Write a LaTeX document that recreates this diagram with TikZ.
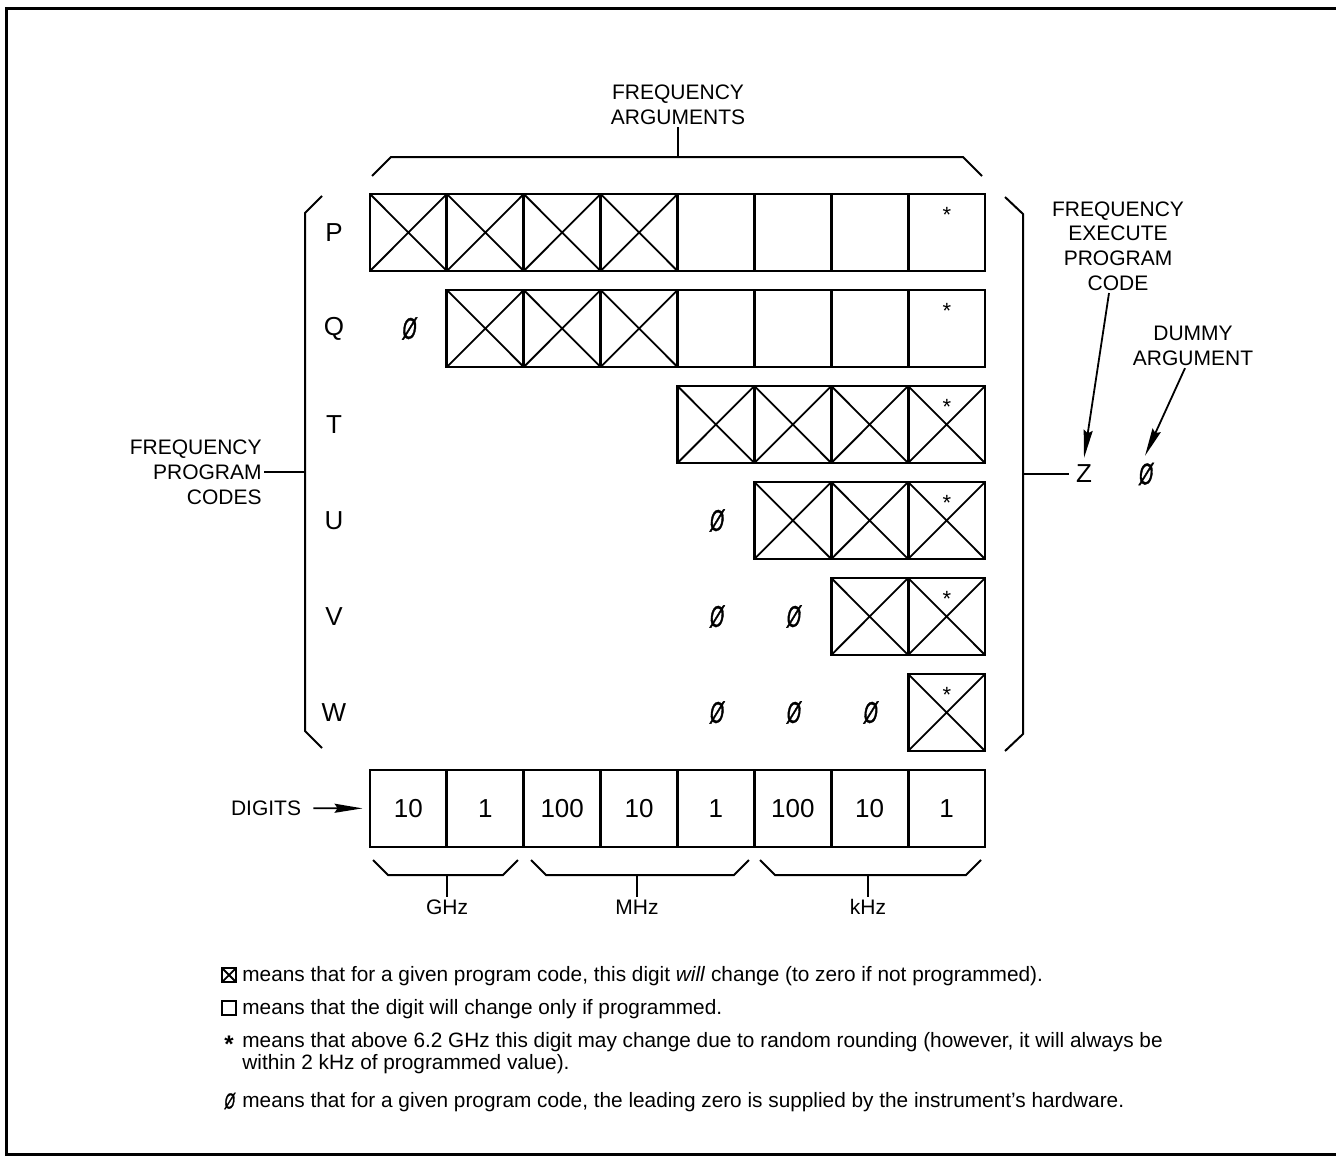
\documentclass[tikz,border=0pt]{standalone}
\usepackage{fontspec}
\setmainfont{Liberation Sans}
\newfontfamily\slzero{Liberation Sans}[FakeStretch=0.6,FakeSlant=0.12,FakeBold=1.2]
\usetikzlibrary{arrows.meta}
\tikzset{
  grid/box/.style={line width=1.4pt},
  grid/cross/.style={line width=0.9pt},
  grid/brace/.style={line width=1pt},
  grid/cap/.style={font=\fontsize{10.5}{12.4}\selectfont, align=center, inner sep=1pt},
  grid/big/.style={font=\fontsize{13}{15}\selectfont},
  grid/zero/.style={font=\fontsize{15}{17}\selectfont\slzero},
  grid/note/.style={font=\fontsize{10.4}{12}\selectfont, anchor=base west, inner sep=0pt},
  grid/ptr/.style={line width=0.9pt, -{Stealth[length=14pt,width=4.5pt,inset=1.5pt]}},
}

\begin{document}
\begin{tikzpicture}[x=0.5pt,y=-0.5pt]
  \useasboundingbox (0,0) rectangle (1336,1157);
  \draw[line width=1.5pt] (1340,8) -- (6,8) -- (6,1154) -- (1340,1154);

  % arguments
  \node[grid/cap] (args) at (678,105) {FREQUENCY\\ARGUMENTS};
  \draw[grid/brace] (372,176) -- (391,157) -- (963,157) -- (982,176);
  \draw[grid/brace] (678,157) -- (args);

  % program codes
  \node[grid/cap, align=right, anchor=east] (codes) at (264,472) {FREQUENCY\\PROGRAM\\CODES};
  \draw[grid/brace] (322,196) -- (305,213) -- (305,731) -- (322,748);
  \draw[grid/brace] (305,472) -- (codes.east);

  % execute code
  \draw[grid/brace] (1005,197) -- (1023,214) -- (1023,734) -- (1005,751);
  \node[grid/big] (zcode) at (1084,474) {Z};
  \node[grid/zero] (dzero) at (1145,474) {Ø};
  \draw[grid/brace] (1023,474) -- (zcode.west);
  \node[grid/cap] (exec) at (1118,246) {FREQUENCY\\EXECUTE\\PROGRAM\\CODE};
  \node[grid/cap] (dummy) at (1193,346) {DUMMY\\ARGUMENT};
  \draw[grid/ptr] ([xshift=-4.5pt]exec.south) -- (zcode.north);
  \draw[grid/ptr] ([xshift=-4pt]dummy.south) -- (dzero.north);

  \foreach \lbl/\r/\a/\b in {P/0/0/3, Q/1/1/3, T/2/4/7, U/3/5/7, V/4/6/7, W/5/7/7} {
    \node[grid/big] (row\lbl) at (334,{232.5+96*\r}) {\lbl};
    \foreach \c in {\a,...,7}
      \draw[grid/box] ({370+76.875*\c},{194+96*\r}) rectangle ++(76.875,77);
    \foreach \c in {\a,...,\b}
      \draw[grid/cross] ({370+76.875*\c},{194+96*\r}) -- ++(76.875,77) ++(0,-77) -- ++(-76.875,77);
    \node[font=\fontsize{11}{13}\selectfont, anchor=north, inner sep=0pt] (ast\lbl) at (947,{207+96*\r}) {*};
  }
  \foreach \c/\r in {0/1, 4/3, 4/4, 5/4, 4/5, 5/5, 6/5}
    \node[grid/zero] (z\c\r) at ({370+76.875*(\c+0.5)},{232.5+96*\r}) {Ø};

  % digits
  \foreach \d [count=\c from 0] in {10,1,100,10,1,100,10,1}
    \node[grid/big, draw, grid/box, minimum width=38.44pt, minimum height=38.5pt, inner sep=0pt] (dig\c) at ({370+76.875*(\c+0.5)},808.5) {\d};
  \node[grid/cap] (digits) at (266,808) {DIGITS};
  \draw[grid/ptr, shorten <=5pt, shorten >=3pt] (digits) -- (dig0);

  \draw[grid/brace] (373,860) -- (388,875) -- (503,875) -- (518,860);
  \draw[grid/brace] (531,860) -- (546,875) -- (734,875) -- (749,860);
  \draw[grid/brace] (760,860) -- (775,875) -- (966,875) -- (981,860);
  \node[grid/cap] (ghz) at (447,907) {GHz};
  \node[grid/cap] (mhz) at (637,907) {MHz};
  \node[grid/cap] (khz) at (868,907) {kHz};
  \draw[grid/brace] (447,875) -- (ghz);
  \draw[grid/brace] (637,875) -- (mhz);
  \draw[grid/brace] (868,875) -- (khz);

  % legend
  \draw[grid/cross] (222,968) rectangle (236,982) (222,968) -- (236,982) (236,968) -- (222,982);
  \draw[grid/cross] (222,1001) rectangle (236,1015);
  \node[font=\fontsize{12}{14}\selectfont\bfseries, anchor=north, inner sep=0pt] (astkey) at (229,1036) {*};
  \node[font=\fontsize{11}{13}\selectfont\slzero, inner sep=0pt] (zerokey) at (229,1101) {Ø};
  \node[grid/note] (note1) at (242,981) {means that for a given program code, this digit \textit{will} change (to zero if not programmed).};
  \node[grid/note] (note2) at (242,1014) {means that the digit will change only if programmed.};
  \node[grid/note] (note3) at (242,1047) {means that above 6.2 GHz this digit may change due to random rounding (however, it will always be};
  \node[grid/note] (note3b) at (242,1069) {within 2 kHz of programmed value).};
  \node[grid/note] (note4) at (242,1107) {means that for a given program code, the leading zero is supplied by the instrument's hardware.};
\end{tikzpicture}
\end{document}
